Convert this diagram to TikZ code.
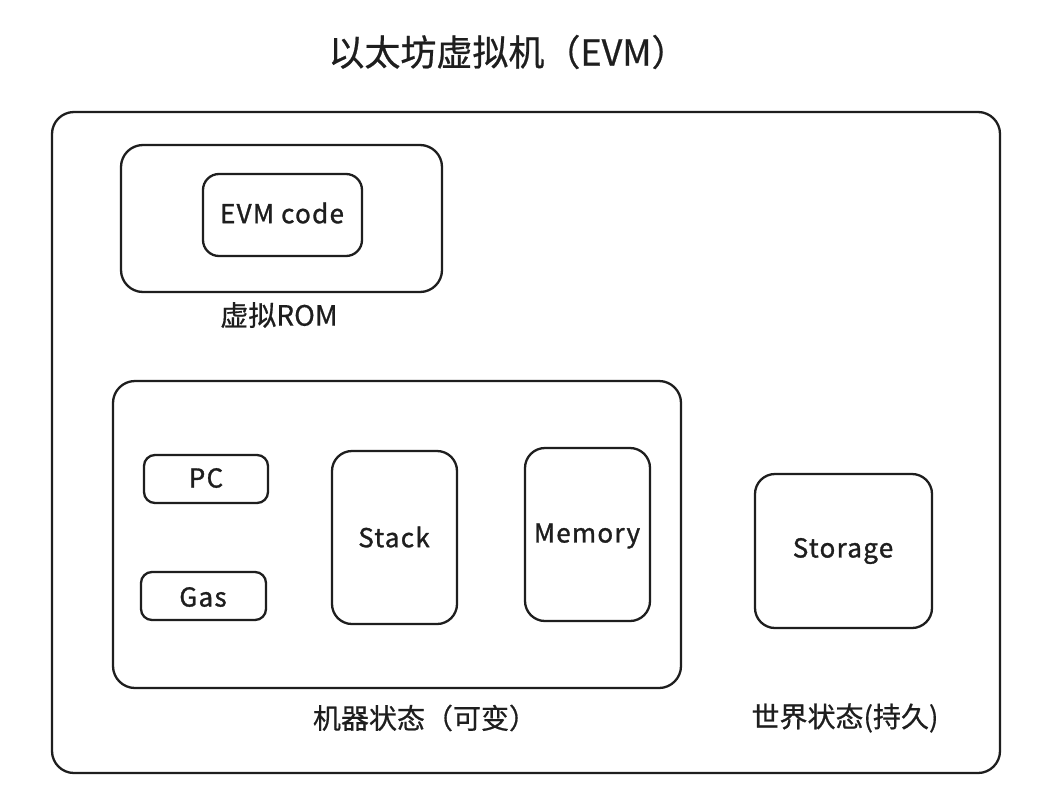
\documentclass[tikz,border=0pt]{standalone}
\usepackage{fontspec}
\setmainfont{Noto Sans CJK SC}
\newfontfamily\latinhand[LetterSpace=5,FakeBold=1.2]{Noto Sans CJK SC}
\newfontfamily\cjkmain[FakeBold=0.6]{Noto Sans CJK SC}
\definecolor{ink}{HTML}{1E1E1E}
\begin{document}
\begin{tikzpicture}[x=1pt,y=-1pt,
  box/.style={draw=ink, line width=2.3pt, rounded corners=22pt},
  smallbox/.style={draw=ink, line width=2.3pt, rounded corners=11pt},
  midbox/.style={draw=ink, line width=2.3pt, rounded corners=20pt},
  captext/.style={font=\cjkmain\fontsize{28}{32}\selectfont, text=ink},
  lbl/.style={font=\latinhand\fontsize{26}{30}\selectfont, text=ink}]
\useasboundingbox[fill=white] (0,0) rectangle (1062,790);
\node[font=\cjkmain\fontsize{36}{40}\selectfont, text=ink] (title) at (508,52) {以太坊虚拟机（EVM）};
\draw[box] (52,112) rectangle (1000,773);
% Virtual ROM
\draw[box] (121,145) rectangle (442,292);
\draw[smallbox, rounded corners=16pt] (203,174) rectangle (362,256);
\node[lbl] (code) at (282,213) {EVM code};
\node[captext] (rom) at (279,315) {虚拟ROM};
% Machine state
\draw[box] (113,381) rectangle (681,688);
\draw[smallbox] (144,455) rectangle (268,503);
\node[lbl] (pc) at (206,478) {PC};
\draw[smallbox] (141,572) rectangle (266,620);
\node[lbl] (gas) at (203,597) {Gas};
\draw[midbox] (332,451) rectangle (457,624);
\node[lbl] (stack) at (394,537) {Stack};
\draw[midbox] (525,448) rectangle (650,621);
\node[lbl] (mem) at (587,536) {Memory};
\node[captext] (ms) at (425,718) {机器状态（可变）};
% World state
\draw[midbox] (755,474) rectangle (932,628);
\node[lbl] (stor) at (843,551) {Storage};
\node[captext] (ws) at (845,718) {世界状态(持久)};
\end{tikzpicture}
\end{document}
